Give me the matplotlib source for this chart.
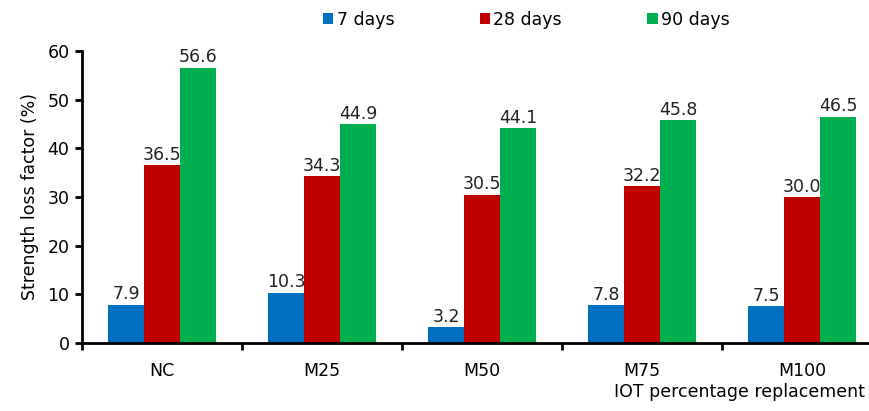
import numpy as np
import matplotlib
matplotlib.use("Agg")
from matplotlib import pyplot as plt

categories = ["NC", "M25", "M50", "M75", "M100"]
days_7 = [7.9, 10.3, 3.2, 7.8, 7.5]
days_28 = [36.5, 34.3, 30.5, 32.2, 30.0]
days_90 = [56.6, 44.9, 44.1, 45.8, 46.5]
series_labels = ["7 days", "28 days", "90 days"]
colors = ["#0070C0", "#C00000", "#00B050"]

plt.rcParams['font.family'] = ['DejaVu Sans']
plt.rcParams['font.size'] = 12.5

fig = plt.figure(figsize=(8.7, 4.11), dpi=100)
ax = fig.add_axes([0.0943, 0.1655, 0.9195, 0.7105])

x = np.arange(len(categories))
w = 0.225
for i, (vals, lab, c) in enumerate(zip([days_7, days_28, days_90], series_labels, colors)):
    pos = x + (i - 1) * w
    bars = ax.bar(pos, vals, width=w, color=c, label=lab)
    for b, v in zip(bars, vals):
        ax.text(b.get_x() + b.get_width() / 2, v + 0.3, f"{v:.1f}",
                ha="center", va="bottom", color="#222222")

ax.set_xlim(-0.5, len(categories) - 0.5)
ax.set_ylim(0, 60)
ax.set_yticks(range(0, 61, 10))
ax.set_xticks(x)
ax.set_xticklabels(categories)
ax.set_xticks(np.arange(-0.5, len(categories), 1), minor=True)
ax.tick_params(axis="x", which="major", length=0, pad=14)
ax.tick_params(axis="x", which="minor", length=5, width=2, direction="out")
ax.tick_params(axis="y", length=5, width=2, direction="out", pad=4)

for s in ["top", "right"]:
    ax.spines[s].set_visible(False)
for s in ["left", "bottom"]:
    ax.spines[s].set_linewidth(2)

ax.set_ylabel("Strength loss factor (%)", labelpad=6)
fig.text(0.994, 0.025, "IOT percentage replacement", ha="right", va="bottom")

ax.legend(loc="upper center", bbox_to_anchor=(0.605, 1.012), bbox_transform=fig.transFigure,
          ncol=3, frameon=False, handlelength=0.6, handleheight=0.6, handletextpad=0.2,
          columnspacing=4.9)

fig.savefig("out.png", dpi=100)
